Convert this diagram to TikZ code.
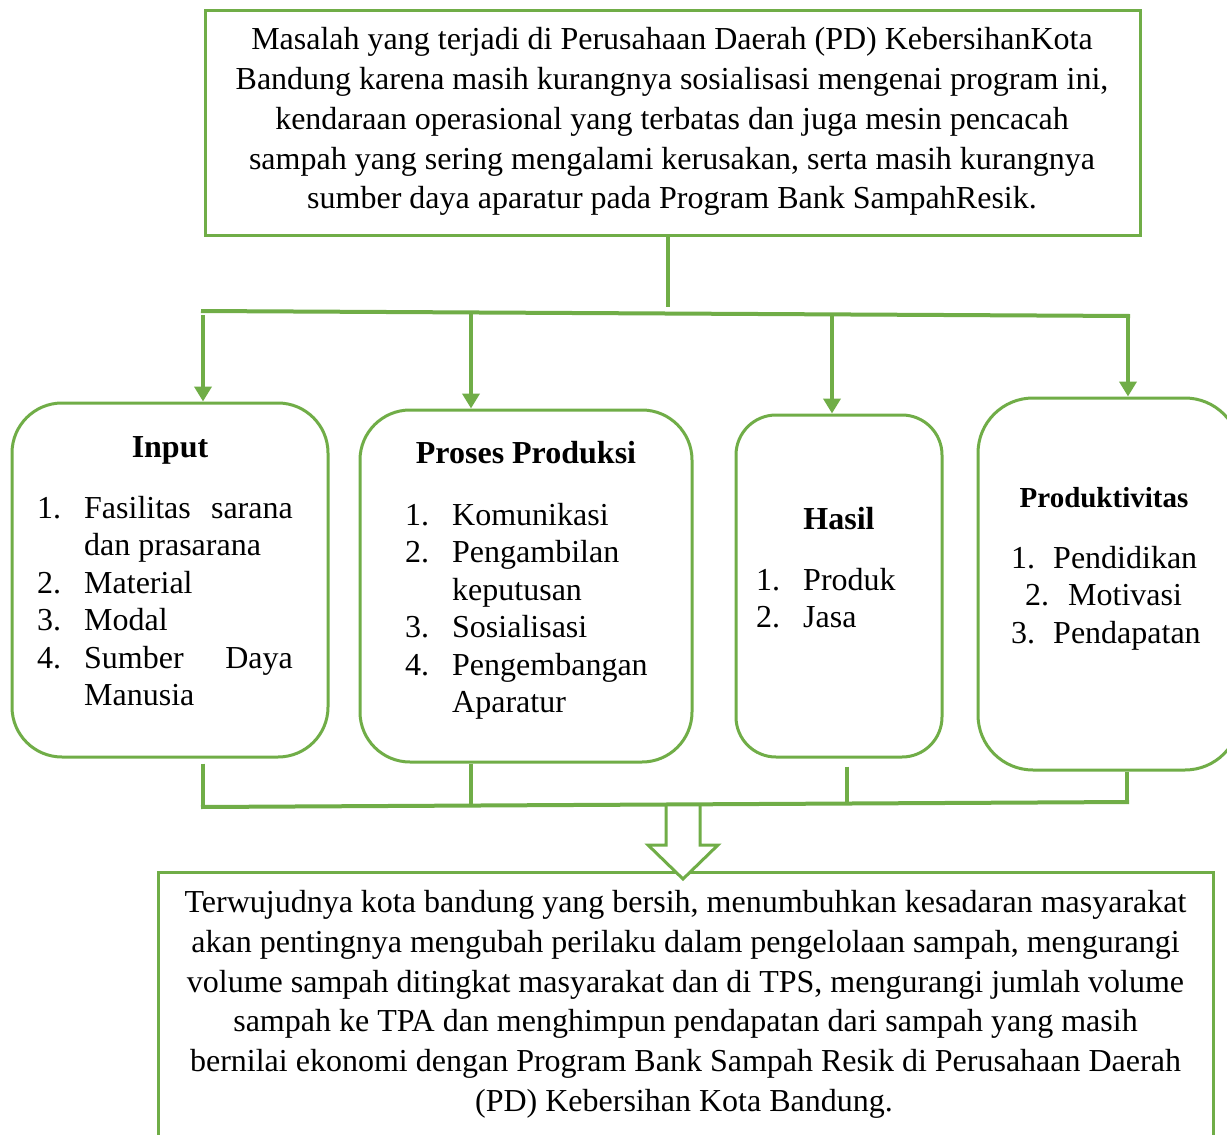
\documentclass[tikz,border=0pt]{standalone}
\usepackage{fontspec}
\setmainfont{Liberation Serif}
\usetikzlibrary{arrows.meta}
\definecolor{grn}{HTML}{70AD47}
\tikzset{
  rectbox/.style={draw=grn, line width=3pt, inner sep=0pt},
  rbox/.style={draw=grn, line width=3pt, inner sep=0pt, rounded corners=50pt},
  conn/.style={draw=grn, line width=4pt},
  arr/.style={draw=grn, line width=4pt, -{Triangle[width=17pt,length=15pt]}},
  txt/.style={anchor=base, inner sep=0pt, font=\fontsize{32}{40}\selectfont},
  lst/.style={anchor=base west, inner sep=0pt, font=\fontsize{32}{40}\selectfont},
  lstr/.style={anchor=base east, inner sep=0pt, font=\fontsize{32}{40}\selectfont},
  ttl/.style={anchor=base, inner sep=0pt, font=\fontsize{32}{40}\selectfont\bfseries},
}
\begin{document}
\begin{tikzpicture}[x=1pt,y=-1pt]
\useasboundingbox (0,0) rectangle (1227,1135);
\clip (0,0) rectangle (1227,1135);
\fill[white] (0,0) rectangle (1227,1135);

% top box
\node[rectbox, minimum width=935pt, minimum height=225pt] (top) at (672.5,122.5) {};
\node[txt] (t1) at (672,49) {Masalah yang terjadi di Perusahaan Daerah (PD) KebersihanKota};
\node[txt] (t2) at (672,89) {Bandung karena masih kurangnya sosialisasi mengenai program ini,};
\node[txt] (t3) at (672,129) {kendaraan operasional yang terbatas dan juga mesin pencacah};
\node[txt] (t4) at (672,169) {sampah yang sering mengalami kerusakan, serta masih kurangnya};
\node[txt] (t5) at (672,208) {sumber daya aparatur pada Program Bank SampahResik.};

% four boxes
\node[rbox, minimum width=316pt, minimum height=354pt] (inp) at (170,580) {};
\node[rbox, minimum width=332pt, minimum height=352pt] (pro) at (526,586) {};
\node[rbox, rounded corners=40pt, minimum width=206pt, minimum height=342pt] (has) at (839,586) {};
\node[rbox, rounded corners=55pt, minimum width=262pt, minimum height=372pt] (prd) at (1109,584) {};

% bus coordinates
\coordinate (b1) at (203,311);
\coordinate (b2) at (471,312.45);
\coordinate (bt) at (668,313.5);
\coordinate (b3) at (832,314.4);
\coordinate (b4) at (1128,316);

\draw[conn] (top.south -| bt) -- ([yshift=7pt]bt);
\draw[conn] ([xshift=-2pt]b1) -- ([xshift=2pt]b4);
\draw[arr] ([yshift=-4pt]b1) -- (b1 |- inp.north);
\draw[arr] (b2) -- (b2 |- pro.north);
\draw[arr] (b3) -- (b3 |- has.north);
\draw[arr] (b4) -- (b4 |- prd.north);

% bottom box
\node[rectbox, minimum width=1055pt, minimum height=280pt] (res) at (685.5,1012) {};

% hollow arrow
\coordinate (ha) at (682.5,804);
\draw[draw=grn, line width=3pt, fill=white, line join=miter]
  ([xshift=-16.5pt]ha) -- ++(0,41) -- ++(-18,0) -- ++(35,34) -- ++(35,-34) -- ++(-18,0) -- ++(0,-41);

% lower bus
\coordinate (c1) at (203,807);
\coordinate (c2) at (471,805.55);
\coordinate (c3) at (847,803.5);
\coordinate (c4) at (1127,802);
\draw[conn] ([yshift=-5pt]inp.south -| c1) -- ([yshift=-2pt]c1);
\draw[conn] (pro.south -| c2) -- (c2);
\draw[conn] ([yshift=-8pt]has.south -| c3) -- (c3);
\draw[conn] (prd.south -| c4) -- ([yshift=-2pt]c4);
\draw[conn] ([xshift=-2pt]c1) -- ([xshift=2pt]c4);

% bottom text
\node[txt] (r1) at (685.5,912) {Terwujudnya kota bandung yang bersih, menumbuhkan kesadaran masyarakat};
\node[txt] (r2) at (685.5,952) {akan pentingnya mengubah perilaku dalam pengelolaan sampah, mengurangi};
\node[txt] (r3) at (685.5,992) {volume sampah ditingkat masyarakat dan di TPS, mengurangi jumlah volume};
\node[txt] (r4) at (685.5,1031) {sampah ke TPA dan menghimpun pendapatan dari sampah yang masih};
\node[txt] (r5) at (685.5,1071) {bernilai ekonomi dengan Program Bank Sampah Resik di Perusahaan Daerah};
\node[txt] (r6) at (684,1111) {(PD) Kebersihan Kota Bandung.};

% Input list
\node[ttl] (ia) at (170,457) {Input};
\node[lst] (in1) at (37,518) {1.};
\node[lst] (ix1) at (84,518) {Fasilitas};
\node[lstr] (ix1b) at (293,518) {sarana};
\node[lst] (ix1c) at (84,555.5) {dan prasarana};
\node[lst] (in2) at (37,593) {2.};
\node[lst] (ix2) at (84,593) {Material};
\node[lst] (in3) at (37,630.5) {3.};
\node[lst] (ix3) at (84,630.5) {Modal};
\node[lst] (in4) at (37,668) {4.};
\node[lst] (ix4) at (84,668) {Sumber};
\node[lstr] (ix4b) at (293,668) {Daya};
\node[lst] (ix4c) at (84,705.5) {Manusia};

% Proses list
\node[ttl] (pa) at (526,463) {Proses Produksi};
\node[lst] (pn1) at (405,525) {1.};
\node[lst] (px1) at (452,525) {Komunikasi};
\node[lst] (pn2) at (405,562.5) {2.};
\node[lst] (px2) at (452,562.5) {Pengambilan};
\node[lst] (px2b) at (452,600) {keputusan};
\node[lst] (pn3) at (405,637.5) {3.};
\node[lst] (px3) at (452,637.5) {Sosialisasi};
\node[lst] (pn4) at (405,675) {4.};
\node[lst] (px4) at (452,675) {Pengembangan};
\node[lst] (px4b) at (452,712.5) {Aparatur};

% Hasil list
\node[ttl] (ha1) at (839,529) {Hasil};
\node[lst] (hn1) at (756,590) {1.};
\node[lst] (hx1) at (803,590) {Produk};
\node[lst] (hn2) at (756,627.5) {2.};
\node[lst] (hx2) at (803,627.5) {Jasa};

% Produktivitas list
\node[anchor=base, inner sep=0pt, font=\fontsize{29}{36}\selectfont\bfseries] (qa) at (1104,507) {Produktivitas};
\node[lst] (qn1) at (1011,568) {1.};
\node[lst] (qx1) at (1053,568) {Pendidikan};
\node[lst] (qn2) at (1025,605.5) {2.};
\node[lst] (qx2) at (1068,605.5) {Motivasi};
\node[lst] (qn3) at (1011,643) {3.};
\node[lst] (qx3) at (1053,643) {Pendapatan};
\end{tikzpicture}
\end{document}
